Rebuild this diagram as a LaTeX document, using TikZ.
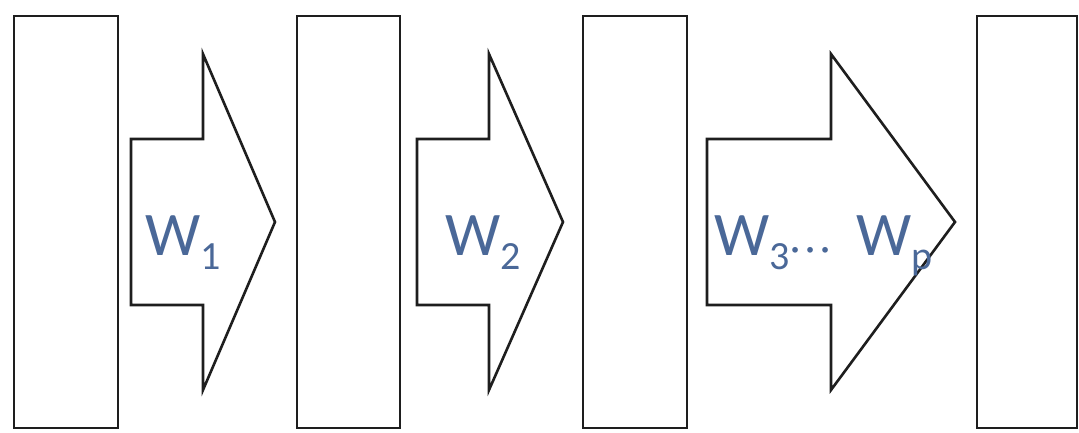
\documentclass[tikz,border=0pt]{standalone}
\usepackage{fontspec}
\newfontfamily\calib{Carlito}
\usepackage{tikz}
\usetikzlibrary{positioning}
\usepackage{xcolor}
\definecolor{wblue}{RGB}{74,104,152}
\definecolor{edgegray}{RGB}{30,30,30}

% subscript of a weight label
\newcommand{\wsub}[1]{\raisebox{-14pt}{\fontsize{40}{40}\selectfont #1}}
% raised dots after a subscript
\newcommand{\wdots}{\raisebox{-6pt}{\fontsize{40}{40}\selectfont\kern1pt·\kern5pt·\kern5pt·}}
% block arrow: tail x, head base x, tip x
\newcommand{\blockarrow}[3]{%
  \draw[flowarrow] (#1,293) -- (#2,293) -- (#2,378) -- (#3,210)
    -- (#2,42) -- (#2,127) -- (#1,127) -- cycle;}

\begin{document}
\begin{tikzpicture}[x=1pt,y=1pt,
    layerbox/.style={draw=edgegray, line width=2.6pt, minimum height=412pt, inner sep=0pt},
    flowarrow/.style={draw=edgegray, line width=2.6pt, line join=miter, fill=white},
    wlabel/.style={font=\calib\fontsize{62}{62}\selectfont, text=wblue, inner sep=0pt, anchor=base west}]
    \useasboundingbox (0,0) rectangle (1079,432);
    % layers
    \node[layerbox, minimum width=104pt] (l1) at (66,210) {};
    \node[layerbox, minimum width=103pt] (l2) at (348.5,210) {};
    \node[layerbox, minimum width=104pt] (l3) at (635,210) {};
    \node[layerbox, minimum width=100pt] (l4) at (1027,210) {};
    % weight arrows
    \blockarrow{131}{203}{275}
    \blockarrow{417}{489}{563}
    \blockarrow{707}{831}{955}
    \node[wlabel] (w1) at (145,177) {W\wsub{1}};
    \node[wlabel] (w2) at (445,177) {W\wsub{2}};
    \node[wlabel] (w3) at (714,177) {W\wsub{3}\wdots};
    \node[wlabel] (wp) at (856,177) {W\wsub{p}};
\end{tikzpicture}
\end{document}
